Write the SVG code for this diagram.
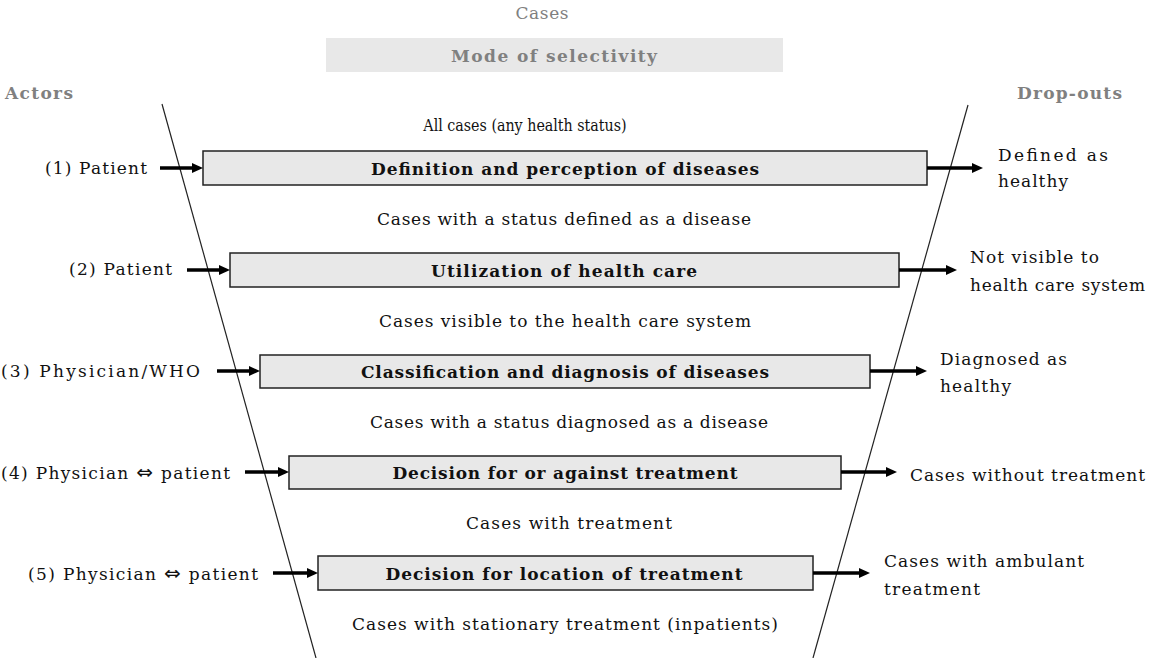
<svg xmlns="http://www.w3.org/2000/svg" width="1150" height="658" viewBox="0 0 1150 658">
<defs>
<marker id="ah" viewBox="0 0 11 10" refX="0" refY="5" markerWidth="11" markerHeight="10" markerUnits="userSpaceOnUse" orient="auto">
<path d="M0,0 L11,5 L0,10 z" fill="#000"/>
</marker>
<style>
text{font-family:"DejaVu Serif","Liberation Serif",serif;fill:#111;}
.t{font-size:17px;}
.b{font-size:17px;font-weight:bold;}
.g{fill:#808080;}
.c{text-anchor:middle;}
.sym{font-family:"DejaVu Sans",sans-serif;font-size:20px;}
.box{fill:#e8e8e8;stroke:#222;stroke-width:1.5;}
.arr{stroke:#000;stroke-width:3.5;fill:none;marker-end:url(#ah);}
.fun{stroke:#222;stroke-width:1.2;fill:none;}
</style>
</defs>
<rect width="1150" height="658" fill="#fff"/>

<g id="header">
<text class="t g c" x="542" y="19" font-size="15" textLength="53" lengthAdjust="spacing">Cases</text>
<rect x="326" y="38" width="457" height="34" fill="#e8e8e8"/>
<text class="b g c" x="554" y="62" textLength="206" lengthAdjust="spacing">Mode of selectivity</text>
<text class="b g" x="5" y="99" textLength="68" lengthAdjust="spacing">Actors</text>
<text class="b g" x="1017" y="99" textLength="105" lengthAdjust="spacing">Drop-outs</text>
</g>

<g id="funnel">
<line class="fun" x1="162" y1="104" x2="316" y2="658"/>
<line class="fun" x1="968" y1="105" x2="813" y2="658"/>
</g>

<g id="flow-texts">
<text class="t c" x="0" y="0" transform="translate(525 131) scale(0.84 1)" textLength="242" lengthAdjust="spacing">All cases (any health status)</text>
<text class="t c" x="564" y="225" textLength="374" lengthAdjust="spacing">Cases with a status defined as a disease</text>
<text class="t c" x="565" y="327" textLength="372" lengthAdjust="spacing">Cases visible to the health care system</text>
<text class="t c" x="569" y="428" textLength="398" lengthAdjust="spacing">Cases with a status diagnosed as a disease</text>
<text class="t c" x="569" y="529" textLength="206" lengthAdjust="spacing">Cases with treatment</text>
<text class="t c" x="565" y="630" textLength="426" lengthAdjust="spacing">Cases with stationary treatment (inpatients)</text>
</g>

<g id="step1">
<rect class="box" x="203" y="151" width="724" height="34"/>
<text class="b c" x="565" y="175" textLength="388" lengthAdjust="spacing">Definition and perception of diseases</text>
</g>
<g id="step2">
<rect class="box" x="230" y="253" width="669" height="34"/>
<text class="b c" x="564" y="277" textLength="266" lengthAdjust="spacing">Utilization of health care</text>
</g>
<g id="step3">
<rect class="box" x="260" y="355" width="610" height="33"/>
<text class="b c" x="565" y="378" textLength="408" lengthAdjust="spacing">Classification and diagnosis of diseases</text>
</g>
<g id="step4">
<rect class="box" x="289" y="456" width="552" height="33"/>
<text class="b c" x="565" y="479" textLength="345" lengthAdjust="spacing">Decision for or against treatment</text>
</g>
<g id="step5">
<rect class="box" x="318" y="556" width="495" height="34"/>
<text class="b c" x="564" y="580" textLength="357" lengthAdjust="spacing">Decision for location of treatment</text>
</g>

<g id="actors">
<text class="t" x="45" y="174" textLength="102" lengthAdjust="spacing">(1) Patient</text>
<text class="t" x="69" y="275" textLength="103" lengthAdjust="spacing">(2) Patient</text>
<text class="t" x="1" y="377" textLength="199" lengthAdjust="spacing">(3) Physician/WHO</text>
<text class="t" x="1" y="479" textLength="229" lengthAdjust="spacing">(4) Physician <tspan class="sym">⇔</tspan> patient</text>
<text class="t" x="28" y="580" textLength="230" lengthAdjust="spacing">(5) Physician <tspan class="sym">⇔</tspan> patient</text>
</g>

<g id="dropouts">
<text class="t" x="998" y="161" textLength="110" lengthAdjust="spacing">Defined as</text>
<text class="t" x="998" y="187" textLength="70" lengthAdjust="spacing">healthy</text>
<text class="t" x="970" y="263" textLength="129" lengthAdjust="spacing">Not visible to</text>
<text class="t" x="970" y="291" textLength="175" lengthAdjust="spacing">health care system</text>
<text class="t" x="940" y="365" textLength="127" lengthAdjust="spacing">Diagnosed as</text>
<text class="t" x="940" y="392" textLength="71" lengthAdjust="spacing">healthy</text>
<text class="t" x="910" y="481" textLength="235" lengthAdjust="spacing">Cases without treatment</text>
<text class="t" x="884" y="567" textLength="200" lengthAdjust="spacing">Cases with ambulant</text>
<text class="t" x="884" y="595" textLength="96" lengthAdjust="spacing">treatment</text>
</g>

<g id="connectors">
<line class="arr" x1="160" y1="168" x2="192" y2="168"/>
<line class="arr" x1="187" y1="270" x2="219" y2="270"/>
<line class="arr" x1="217" y1="371" x2="249" y2="371"/>
<line class="arr" x1="245" y1="472" x2="278" y2="472"/>
<line class="arr" x1="273" y1="573" x2="307" y2="573"/>
<line class="arr" x1="927" y1="168" x2="972" y2="168"/>
<line class="arr" x1="899" y1="270" x2="946" y2="270"/>
<line class="arr" x1="870" y1="371" x2="916" y2="371"/>
<line class="arr" x1="841" y1="472" x2="886" y2="472"/>
<line class="arr" x1="813" y1="573" x2="859" y2="573"/>
</g>
</svg>
